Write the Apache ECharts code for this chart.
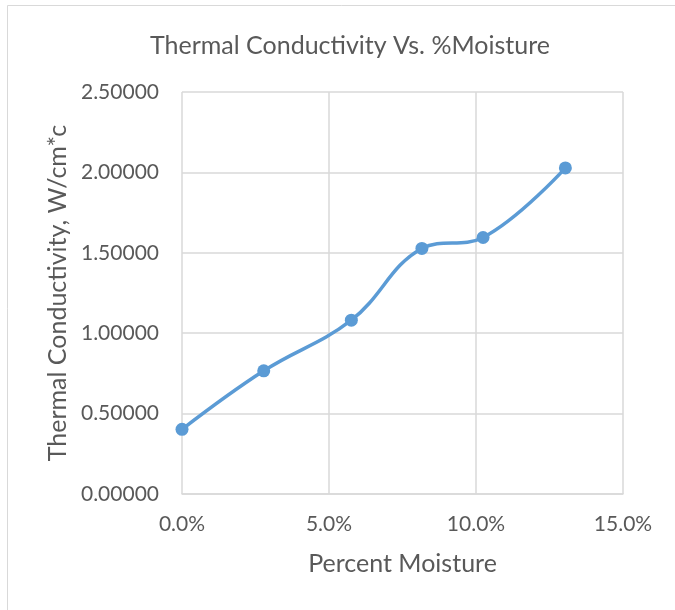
<!DOCTYPE html>
<html>
<head>
<meta charset="utf-8">
<title>Thermal Conductivity Vs. %Moisture</title>
<script src="https://cdn.jsdelivr.net/npm/echarts@6/dist/echarts.min.js"></script>
<style>
  html, body { margin: 0; padding: 0; background: #ffffff; }
  #chart { width: 675px; height: 610px; }
</style>
</head>
<body>
<div id="chart"></div>
<script>
// Moisture content (fraction) and measured thermal conductivity (W/cm*c)
const moisture = [0.0, 0.0278, 0.0576, 0.0816, 0.1024, 0.1304];
const conductivity = [0.402, 0.766, 1.081, 1.527, 1.595, 2.028];

const chartTitle = 'Thermal Conductivity Vs. %Moisture';
const xAxisName = 'Percent Moisture';
const yAxisName = 'Thermal Conductivity, W/cm*c';

const textColor = '#595959';
const gridColor = '#d9d9d9';
const lineColor = '#5b9bd5';
const fontFamily = 'Lato, "Open Sans", sans-serif';

const points = moisture.map((m, i) => [m, conductivity[i]]);

const chart = echarts.init(document.getElementById('chart'), null, { renderer: 'canvas' });

chart.setOption({
  animation: false,
  backgroundColor: '#ffffff',
  textStyle: { fontFamily: fontFamily },
  graphic: [{
    type: 'rect',
    shape: { x: 7.5, y: 5.5, width: 800, height: 800 },
    style: { fill: 'none', stroke: gridColor, lineWidth: 1 },
    silent: true
  }],
  title: {
    text: chartTitle,
    left: 145,
    top: 28,
    textStyle: { color: textColor, fontSize: 25, fontWeight: 'normal', fontFamily: fontFamily }
  },
  grid: { left: 182, right: 52, top: 92, bottom: 116, containLabel: false },
  xAxis: {
    type: 'value',
    min: 0,
    max: 0.15,
    interval: 0.05,
    name: xAxisName,
    nameLocation: 'middle',
    nameGap: 57,
    nameTextStyle: { color: textColor, fontSize: 25, fontFamily: fontFamily },
    axisLine: { show: true, lineStyle: { color: gridColor, width: 1.5 } },
    axisTick: { show: false },
    axisLabel: {
      color: textColor,
      fontSize: 21,
      margin: 20,
      formatter: v => (v * 100).toFixed(1) + '%'
    },
    splitLine: { show: true, lineStyle: { color: gridColor, width: 1.5 } }
  },
  yAxis: {
    type: 'value',
    min: 0,
    max: 2.5,
    interval: 0.5,
    name: yAxisName,
    nameLocation: 'middle',
    nameRotate: 90,
    nameGap: 112,
    nameTextStyle: { color: textColor, fontSize: 25, fontFamily: fontFamily },
    axisLine: { show: false },
    axisTick: { show: false },
    axisLabel: {
      color: textColor,
      fontSize: 21,
      margin: 23,
      formatter: v => v.toFixed(5)
    },
    splitLine: { show: true, lineStyle: { color: gridColor, width: 1.5 } }
  },
  series: [{
    type: 'line',
    data: points,
    smooth: 0.4,
    showSymbol: true,
    symbol: 'circle',
    symbolSize: 13,
    itemStyle: { color: lineColor },
    lineStyle: { color: lineColor, width: 3.5 },
    clip: false
  }]
});
</script>
</body>
</html>
